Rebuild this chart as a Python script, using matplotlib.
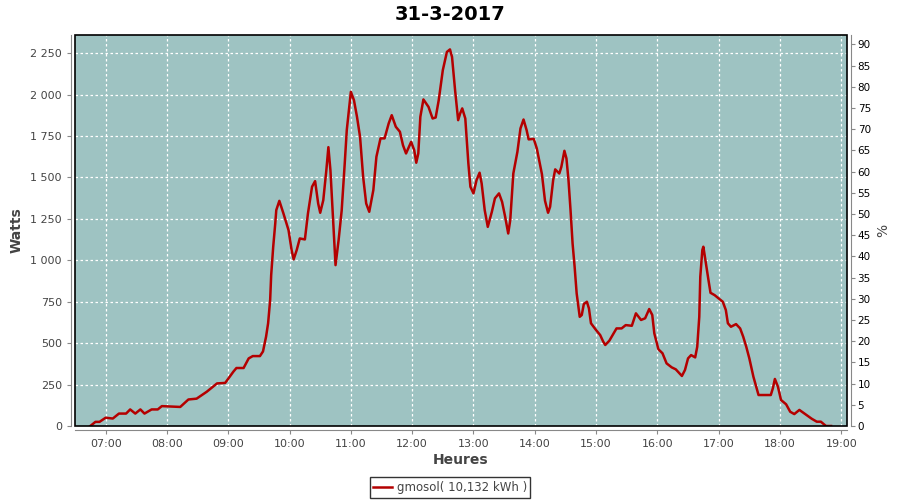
import matplotlib.pyplot as plt
from matplotlib.patches import Rectangle
from matplotlib.ticker import FuncFormatter

# data
times = [
    "06:45", "06:50", "06:54", "07:00", "07:07", "07:13", "07:20", "07:24", "07:29", "07:34",
    "07:38", "07:45", "07:51", "07:55", "08:13", "08:21", "08:29", "08:39", "08:49", "08:57",
    "09:05", "09:08", "09:15", "09:20", "09:24", "09:31", "09:34", "09:37", "09:39", "09:41",
    "09:42", "09:44", "09:46", "09:47", "09:50", "09:54", "09:59", "10:02", "10:04", "10:07",
    "10:10", "10:15", "10:18", "10:22", "10:25", "10:28", "10:30", "10:33", "10:36", "10:38",
    "10:40", "10:43", "10:45", "10:48", "10:51", "10:54", "10:56", "11:00", "11:03", "11:06",
    "11:09", "11:12", "11:15", "11:18", "11:22", "11:25", "11:29", "11:33", "11:37", "11:40",
    "11:44", "11:48", "11:51", "11:54", "11:59", "12:02", "12:04", "12:06", "12:08", "12:11",
    "12:16", "12:20", "12:23", "12:26", "12:30", "12:34", "12:37", "12:39", "12:42", "12:45",
    "12:47", "12:49", "12:52", "12:55", "12:57", "13:00", "13:03", "13:06", "13:08", "13:11",
    "13:14", "13:18", "13:21", "13:25", "13:28", "13:31", "13:34", "13:36", "13:39", "13:43",
    "13:46", "13:49", "13:52", "13:54", "13:59", "14:02", "14:07", "14:10", "14:13", "14:15",
    "14:18", "14:20", "14:24", "14:26", "14:29", "14:31", "14:33", "14:35", "14:37", "14:39",
    "14:41", "14:44", "14:46", "14:48", "14:51", "14:53", "14:55", "15:00", "15:04", "15:07",
    "15:09", "15:13", "15:20", "15:25", "15:29", "15:35", "15:39", "15:44", "15:48", "15:52",
    "15:55", "15:57", "16:01", "16:05", "16:09", "16:14", "16:18", "16:24", "16:27", "16:30",
    "16:33", "16:37", "16:39", "16:41", "16:42", "16:44", "16:45", "16:47", "16:50", "16:52",
    "16:56", "17:00", "17:04", "17:07", "17:09", "17:12", "17:17", "17:21", "17:24", "17:27",
    "17:30", "17:34", "17:39", "17:43", "17:51", "17:53", "17:55", "17:58", "18:01", "18:06",
    "18:10", "18:14", "18:19", "18:26", "18:31", "18:36", "18:40", "18:45", "18:50",
]
watts = [
    0, 25, 25, 50, 45, 75, 75, 100, 75, 100,
    75, 100, 100, 120, 115, 160, 165, 207, 257, 260,
    328, 350, 350, 408, 422, 422, 450, 539, 620, 760,
    910, 1082, 1223, 1303, 1359, 1283, 1182, 1062, 1006, 1062,
    1132, 1126, 1283, 1444, 1478, 1343, 1287, 1363, 1544, 1683,
    1544, 1202, 971, 1122, 1300, 1585, 1786, 2017, 1967, 1866,
    1745, 1504, 1343, 1293, 1424, 1625, 1736, 1736, 1826, 1876,
    1806, 1776, 1695, 1645, 1715, 1665, 1589, 1645, 1866, 1971,
    1926, 1856, 1862, 1967, 2148, 2258, 2273, 2228, 2027, 1846,
    1887, 1917, 1856, 1585, 1444, 1404, 1484, 1529, 1464, 1303,
    1202, 1293, 1374, 1404, 1353, 1263, 1162, 1243, 1524, 1655,
    1796, 1850, 1786, 1730, 1733, 1675, 1520, 1360, 1287, 1323,
    1484, 1549, 1524, 1564, 1661, 1615, 1484, 1303, 1102, 961,
    800, 659, 670, 736, 750, 710, 620, 579, 549, 509,
    489, 515, 589, 589, 609, 605, 680, 640, 650, 706,
    670, 559, 463, 439, 378, 354, 342, 302, 338, 408,
    428, 414, 478, 659, 901, 1062, 1082, 1001, 881, 804,
    790, 770, 750, 700, 620, 599, 615, 589, 539, 478,
    408, 297, 187, 187, 187, 227, 284, 237, 157, 131,
    86, 72, 97, 66, 44, 26, 26, 0, 0,
]
hour_ticks = list(range(7, 20))
watt_ticks = list(range(0, 2251, 250))
pct_ticks = list(range(0, 91, 5))

hours = [int(t[:2]) + int(t[3:]) / 60 for t in times]

fig = plt.figure(figsize=(9, 5), dpi=100)
ax = fig.add_axes([75 / 900, 74 / 500, 771.5 / 900, 391 / 500])
ax.set_facecolor("#9ec3c2")

ax.plot(hours, watts, color="#b40000", lw=1.8, label="gmosol( 10,132 kWh )")

ax.set_xlim(6.5, 19.085)
ax.set_ylim(0, 2360)
ax.set_xticks(hour_ticks)
ax.xaxis.set_major_formatter(FuncFormatter(lambda v, p: f"{int(round(v)):02d}:00"))
ax.set_yticks(watt_ticks)
ax.yaxis.set_major_formatter(FuncFormatter(lambda v, p: f"{int(v):,}".replace(",", " ")))
ax.grid(True, color="white", ls=(0, (2, 2)), lw=0.9)

for s in ["top", "right"]:
    ax.spines[s].set_visible(False)
for s in ["left", "bottom"]:
    ax.spines[s].set_position(("outward", 3))
    ax.spines[s].set_color("#888888")
ax.tick_params(colors="#888888", labelcolor="#444444", labelsize=8, length=3)
ax.add_patch(Rectangle((0, 0), 1, 1, transform=ax.transAxes, fill=False,
                       ec="black", lw=1.2, zorder=5, clip_on=False))

ax.set_xlabel("Heures", fontsize=10, fontweight="bold", color="#444444", labelpad=3)
ax.set_ylabel("Watts", fontsize=10, fontweight="bold", color="#444444", labelpad=5)
fig.text(0.5, 0.97, "31-3-2017", ha="center", va="center", fontsize=14, fontweight="bold")

ax2 = ax.twinx()
ax2.set_ylim(0, 92.2)
ax2.set_yticks(pct_ticks)
for s in ["top", "left", "bottom"]:
    ax2.spines[s].set_visible(False)
ax2.spines["right"].set_position(("outward", 3))
ax2.spines["right"].set_color("#888888")
ax2.tick_params(colors="#888888", labelcolor="black", labelsize=7.5, length=3, pad=2)
ax2.set_ylabel("%", fontsize=10, color="#444444", labelpad=4)

leg = fig.legend(loc="center", bbox_to_anchor=(0.5, 0.025), fontsize=8.5,
                 frameon=True, fancybox=False, edgecolor="black",
                 handlelength=1.6, handletextpad=0.4, borderpad=0.3)
leg.get_frame().set_linewidth(1)
for t in leg.get_texts():
    t.set_color("#444444")

fig.savefig("out.png", dpi=100)
